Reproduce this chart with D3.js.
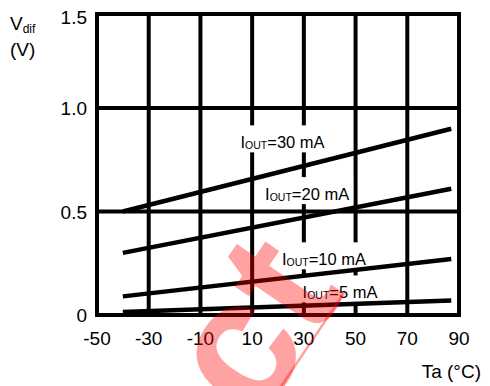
<!DOCTYPE html>
<html><head><meta charset="utf-8">
<script src="https://cdn.jsdelivr.net/npm/d3@7"></script>
<style>
html,body{margin:0;padding:0;background:#fff;}
svg{display:block;font-family:Arial,"Liberation Sans",sans-serif;}
</style></head>
<body>
<script>
// ---- data ----
const temps = [-40, 87];
const seriesNames = ["30 mA", "20 mA", "10 mA", "5 mA"];
const v30 = [0.50, 0.90];
const v20 = [0.30, 0.61];
const v10 = [0.09, 0.27];
const v5  = [0.015, 0.07];
const xTicks = [-50, -30, -10, 10, 30, 50, 70, 90];
const yTicks = [0, 0.5, 1.0, 1.5];
const yTickLabels = ["0", "0.5", "1.0", "1.5"];
// label anchors in data coordinates (temp, volt)
const labelAnchors = [[5.5, 0.805], [15, 0.555], [21.5, 0.24], [29.5, 0.08]];

const W = 490, H = 386;
const svg = d3.select("body").append("svg").attr("width", W).attr("height", H);

const x = d3.scaleLinear().domain([-50, 90]).range([97, 459]);
const y = d3.scaleLinear().domain([0, 0.5, 1.0, 1.5]).range([315, 211.5, 108, 14]);

const GW = 4;
// grid
const grid = svg.append("g").attr("stroke", "#000").attr("stroke-width", GW);
grid.selectAll("line.v").data(xTicks.slice(1, -1)).enter().append("line")
  .attr("x1", d => x(d)).attr("x2", d => x(d)).attr("y1", y(1.5)).attr("y2", y(0));
grid.selectAll("line.h").data(yTicks.slice(1, -1)).enter().append("line")
  .attr("x1", x(-50)).attr("x2", x(90)).attr("y1", d => y(d)).attr("y2", d => y(d));

// labels with white boxes that break the grid
const series = [v30, v20, v10, v5];
const labG = svg.append("g");
seriesNames.forEach((name, i) => {
  const [lt, lv] = labelAnchors[i];
  const g = labG.append("g");
  const t = g.append("text").attr("x", x(lt)).attr("y", y(lv))
    .attr("font-size", 16.5).attr("fill", "#000");
  t.append("tspan").text("I");
  t.append("tspan").attr("font-size", 10.5).attr("dy", 1).text("OUT");
  t.append("tspan").attr("dy", -1).text("=" + name);
  const bb = t.node().getBBox();
  g.insert("rect", "text").attr("x", bb.x - 4).attr("y", bb.y - 8)
    .attr("width", bb.width + 8).attr("height", bb.height + 9).attr("fill", "#fff");
});

// border
svg.append("rect").attr("x", x(-50)).attr("y", y(1.5))
  .attr("width", x(90) - x(-50)).attr("height", y(0) - y(1.5))
  .attr("fill", "none").attr("stroke", "#000").attr("stroke-width", GW);

// data lines
const line = d3.line().x((d, i) => x(temps[i])).y(d => y(d));
svg.append("g").selectAll("path").data(series).enter().append("path")
  .attr("d", d => line(d)).attr("fill", "none").attr("stroke", "#000")
  .attr("stroke-width", 4.5);

// tick labels
svg.append("g").selectAll("text").data(xTicks).enter().append("text")
  .attr("x", d => x(d)).attr("y", 345).attr("text-anchor", "middle")
  .attr("font-size", 19).text(d => d);
svg.append("g").selectAll("text").data(yTicks).enter().append("text")
  .attr("x", 87).attr("y", (d, i) => y(d) + (i === 3 ? 10 : 7)).attr("text-anchor", "end")
  .attr("font-size", 19).text((d, i) => yTickLabels[i]);

// axis titles
const vt = svg.append("text").attr("x", 10).attr("y", 30).attr("font-size", 19);
vt.append("tspan").text("V");
vt.append("tspan").attr("font-size", 12).attr("dy", 3).text("dif");
svg.append("text").attr("x", 10).attr("y", 56).attr("font-size", 19).text("(V)");
svg.append("text").attr("x", 481).attr("y", 378).attr("text-anchor", "end")
  .attr("font-size", 19).text("Ta (°C)");

// watermark fragment
svg.append("g").attr("transform", "translate(346,292) rotate(-56)")
  .attr("opacity", 0.36)
  .append("text").attr("x", 0).attr("y", 0).attr("text-anchor", "end")
  .attr("font-size", 180).attr("font-weight", "bold").attr("fill", "#ff0000").text("ct");
svg.append("g").attr("transform", "translate(336,280) rotate(-56)")
  .attr("opacity", 0.36)
  .append("line").attr("x1", -260).attr("x2", -5).attr("y1", 14).attr("y2", 14)
  .attr("stroke", "#ff0000").attr("stroke-width", 2.5);
</script>
</body></html>
